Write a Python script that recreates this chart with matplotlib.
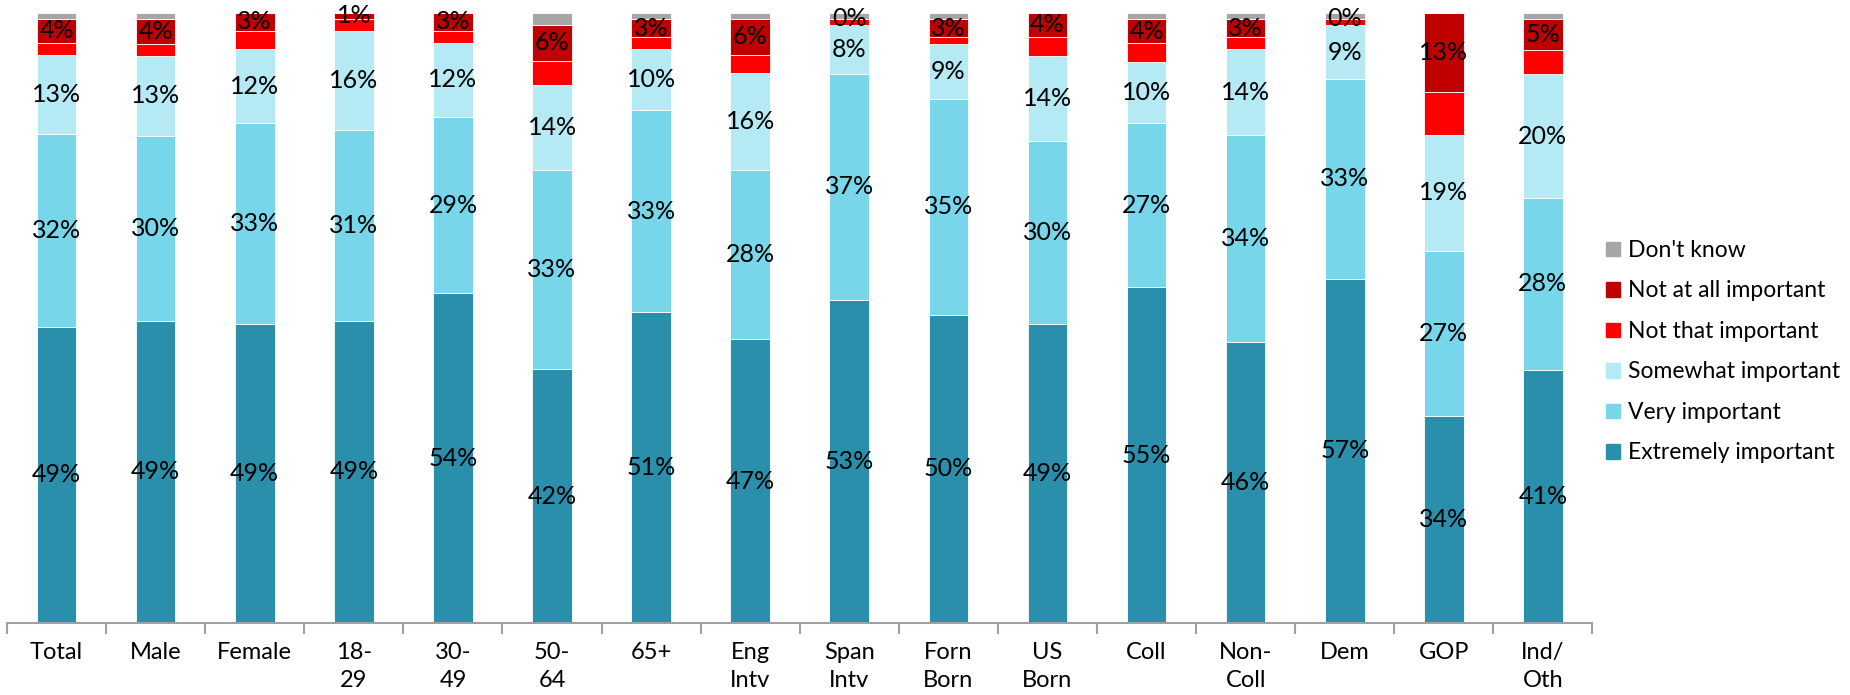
import numpy as np
import matplotlib
matplotlib.use("Agg")
from matplotlib import pyplot as plt
from matplotlib.patches import Patch

plt.rcParams['font.family'] = ['Lato', 'DejaVu Sans']

# Kategoriler (x ekseni)
categories = ["Total", "Male", "Female", "18-\n29", "30-\n49", "50-\n64", "65+",
              "Eng\nIntv", "Span\nIntv", "Forn\nBorn", "US\nBorn", "Coll",
              "Non-\nColl", "Dem", "GOP", "Ind/\nOth"]

# Seri değerleri (%)
extremely = [49, 49, 49, 49, 54, 42, 51, 47, 53, 50, 49, 55, 46, 57, 34, 41]
very      = [32, 30, 33, 31, 29, 33, 33, 28, 37, 35, 30, 27, 34, 33, 27, 28]
somewhat  = [13, 13, 12, 16, 12, 14, 10, 16,  8,  9, 14, 10, 14,  9, 19, 20]
not_that  = [ 2,  2,  3,  2,  2,  4,  2,  3,  1,  1,  3,  3,  2,  1,  7,  4]
not_at_all = [4, 4,  3,  1,  3,  6,  3,  6,  0,  3,  4,  4,  3,  0, 13,  5]
dont_know = [ 1,  1,  0,  0,  0,  2,  1,  1,  1,  1,  0,  1,  1,  1,  0,  1]

series = [
    ("Extremely important", extremely, "#2A8FAB", True),
    ("Very important", very, "#78D6EA", True),
    ("Somewhat important", somewhat, "#B5E9F3", True),
    ("Not that important", not_that, "#FF0000", False),
    ("Not at all important", not_at_all, "#C00000", True),
    ("Don't know", dont_know, "#A6A6A6", False),
]

fig = plt.figure(figsize=(18.5, 6.95), dpi=100)
ax = fig.add_axes([0.0038, 0.1036, 0.857, 0.878])

x = np.arange(len(categories))
totals = np.sum([np.array(s[1], dtype=float) for s in series], axis=0)
bottom = np.zeros(len(categories))

for name, vals, color, show in series:
    v = np.array(vals, dtype=float)
    h = v / totals * 100  # %100 yığılmış çubuk
    ax.bar(x, h, 0.4, bottom=bottom, color=color, edgecolor="white",
           linewidth=0.6, label=name)
    if show:
        for i in range(len(x)):
            ax.text(x[i], bottom[i] + h[i] / 2, f"{vals[i]}%", ha="center",
                    va="center", fontsize=18, color="black")
    bottom += h

ax.set_xlim(-0.5, len(categories) - 0.5)
ax.set_ylim(0, 100)
ax.set_yticks([])
for s in ["top", "right", "left"]:
    ax.spines[s].set_visible(False)
ax.spines["bottom"].set_color("#A0A0A0")
ax.spines["bottom"].set_linewidth(1.5)

ax.set_xticks(x)
ax.set_xticklabels(categories, fontsize=17, linespacing=1.4, va="top")
ax.tick_params(axis="x", which="major", length=0, pad=14)
ax.set_xticks(np.arange(-0.5, len(categories)), minor=True)
ax.tick_params(axis="x", which="minor", length=8, color="#A0A0A0", width=1.5)

handles = [Patch(color=c, label=n) for n, v, c, s in series][::-1]
fig.legend(handles=handles, loc="center left", bbox_to_anchor=(0.857, 0.494),
           frameon=False, fontsize=16.5, handlelength=0.6, handleheight=0.6,
           handletextpad=0.35, labelspacing=0.85)

fig.savefig("out.png", dpi=100)
